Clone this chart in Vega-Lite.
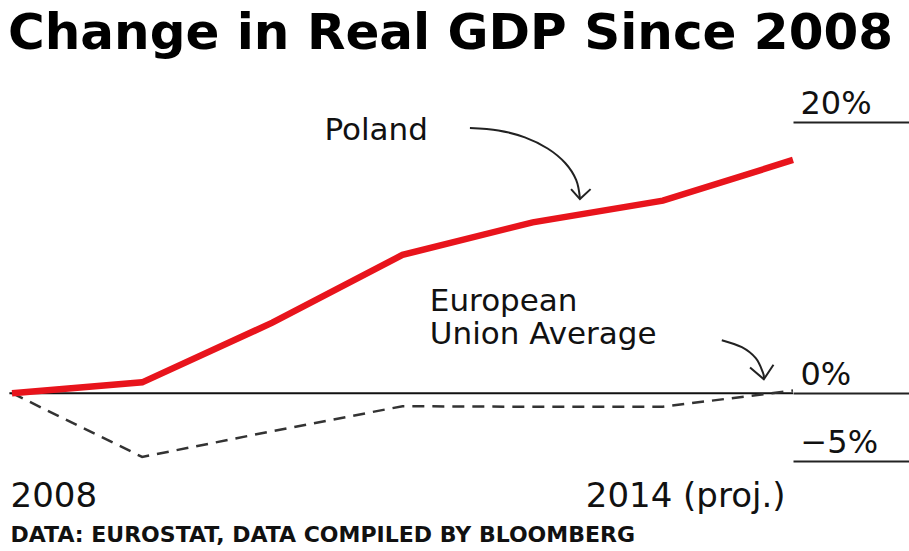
{
  "$schema": "https://vega.github.io/schema/vega-lite/v6.json",
  "autosize": "none",
  "width": 781,
  "height": 339,
  "padding": {"left": 12, "top": 122, "right": 116, "bottom": 90},
  "background": "white",
  "title": {
    "text": "Change in Real GDP Since 2008",
    "anchor": "start",
    "font": "DejaVu Sans",
    "fontSize": 50,
    "fontWeight": "bold",
    "color": "#000000",
    "baseline": "alphabetic",
    "offset": 40,
    "dy": 52,
    "dx": 9
  },
  "config": {"view": {"stroke": null}},
  "datasets": {
    "poland": [
      {"x": 2008, "y": 0},
      {"x": 2009, "y": 0.8},
      {"x": 2010, "y": 5.2},
      {"x": 2011, "y": 10.2},
      {"x": 2012, "y": 12.6},
      {"x": 2013, "y": 14.2},
      {"x": 2014, "y": 17.2}
    ],
    "eu": [
      {"x": 2008, "y": 0},
      {"x": 2009, "y": -4.7},
      {"x": 2010, "y": -2.8},
      {"x": 2011, "y": -0.96},
      {"x": 2012, "y": -1.0},
      {"x": 2013, "y": -1.0},
      {"x": 2014, "y": 0.2}
    ],
    "zero": [{"x": 2007.98, "x2": 2014, "y": 0}],
    "curves": [
      {"id": "p", "o": 1, "x": 2011.518, "y": 19.557},
      {"id": "p", "o": 2, "x": 2011.737, "y": 19.380},
      {"id": "p", "o": 3, "x": 2011.940, "y": 18.863},
      {"id": "p", "o": 4, "x": 2012.115, "y": 18.044},
      {"id": "p", "o": 5, "x": 2012.250, "y": 16.974},
      {"id": "p", "o": 6, "x": 2012.334, "y": 15.727},
      {"id": "p", "o": 7, "x": 2012.363, "y": 14.391},
      {"id": "e", "o": 1, "x": 2013.453, "y": 3.911},
      {"id": "e", "o": 2, "x": 2013.607, "y": 3.395},
      {"id": "e", "o": 3, "x": 2013.714, "y": 2.583},
      {"id": "e", "o": 4, "x": 2013.768, "y": 1.550},
      {"id": "e", "o": 5, "x": 2013.776, "y": 1.107}
    ],
    "heads": [
      {"id": "p", "o": 1, "x": 2012.295, "y": 15.05},
      {"id": "p", "o": 2, "x": 2012.363, "y": 14.318},
      {"id": "p", "o": 3, "x": 2012.445, "y": 15.05},
      {"id": "e", "o": 1, "x": 2013.670, "y": 1.90},
      {"id": "e", "o": 2, "x": 2013.776, "y": 1.033},
      {"id": "e", "o": 3, "x": 2013.850, "y": 2.10}
    ],
    "labels": [
      {"x": 2010.40, "y": 18.67, "label": "Poland"},
      {"x": 2011.21, "y": 6.05, "label": "European"},
      {"x": 2011.21, "y": 3.62, "label": "Union Average"}
    ]
  },
  "encoding": {
    "x": {
      "field": "x",
      "type": "quantitative",
      "scale": {"domain": [2008, 2014], "nice": false, "zero": false},
      "axis": {
        "orient": "bottom",
        "values": [2008, 2014],
        "domain": false,
        "ticks": false,
        "tickSize": 0,
        "grid": false,
        "labelExpr": "datum.value == 2014 ? '2014 (proj.)' : '2008'",
        "labelAlign": {"condition": {"test": "datum.value == 2014", "value": "right"}, "value": "left"},
        "labelOffset": {"condition": {"test": "datum.value == 2014", "value": -8}, "value": -2},
        "labelBaseline": "alphabetic",
        "labelPadding": 45,
        "labelFont": "DejaVu Sans",
        "labelFontSize": 34,
        "labelColor": "#111111",
        "labelFlush": false,
        "labelOverlap": false,
        "labelLimit": 0,
        "title": "DATA: EUROSTAT, DATA COMPILED BY BLOOMBERG",
        "titleFont": "DejaVu Sans",
        "titleFontSize": 22,
        "titleFontWeight": "bold",
        "titleColor": "#111111",
        "titleAlign": "left",
        "titleAnchor": "start",
        "titleBaseline": "alphabetic",
        "titleLimit": 0,
        "titleX": -2,
        "titleY": 80
      }
    },
    "y": {
      "field": "y",
      "type": "quantitative",
      "scale": {"domain": [-5, 20], "nice": false, "zero": false},
      "axis": {
        "orient": "right",
        "values": [20, 0, -5],
        "domain": false,
        "grid": false,
        "ticks": true,
        "tickSize": 116,
        "tickWidth": 2.2,
        "tickColor": "#222222",
        "labelPadding": -109,
        "labelAlign": "left",
        "labelBaseline": "alphabetic",
        "labelOffset": -9,
        "labelFont": "DejaVu Sans",
        "labelFontSize": 32,
        "labelColor": "#111111",
        "labelFlush": false,
        "labelOverlap": false,
        "labelExpr": "datum.value < 0 ? '\u2212' + abs(datum.value) + '%' : datum.value + '%'",
        "title": null
      }
    }
  },
  "layer": [
    {
      "data": {"name": "zero"},
      "mark": {"type": "rule", "color": "#111111", "strokeWidth": 2},
      "encoding": {"x2": {"field": "x2"}}
    },
    {
      "data": {"name": "eu"},
      "mark": {"type": "line", "color": "#333333", "strokeWidth": 2.5, "strokeDash": [12, 8], "clip": false}
    },
    {
      "data": {"name": "poland"},
      "mark": {"type": "line", "color": "#e8141c", "strokeWidth": 6.5, "strokeCap": "butt", "clip": false}
    },
    {
      "data": {"name": "curves"},
      "mark": {"type": "line", "color": "#222222", "strokeWidth": 2, "interpolate": "cardinal"},
      "encoding": {"detail": {"field": "id"}, "order": {"field": "o"}}
    },
    {
      "data": {"name": "heads"},
      "mark": {"type": "line", "color": "#222222", "strokeWidth": 2},
      "encoding": {"detail": {"field": "id"}, "order": {"field": "o"}}
    },
    {
      "data": {"name": "labels"},
      "mark": {"type": "text", "align": "left", "baseline": "alphabetic", "font": "DejaVu Sans", "fontSize": 31, "color": "#111111"},
      "encoding": {"text": {"field": "label"}}
    }
  ]
}
